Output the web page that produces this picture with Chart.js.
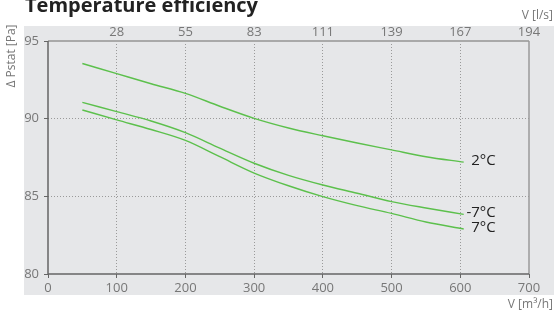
<!DOCTYPE html>
<html>
<head>
<meta charset="utf-8">
<script src="https://cdn.jsdelivr.net/npm/chart.js@4.4.0/dist/chart.umd.min.js"></script>
<style>
  html, body { margin: 0; padding: 0; background: #fff; }
</style>
</head>
<body>
<canvas id="chart" width="554" height="311"></canvas>
<script>
// airflow in m3/h
const airflow = [50, 100, 150, 200, 250, 300, 350, 400, 450, 500, 550, 605];
// static pressure drop [Pa] per outdoor temperature
const pressure2 = [93.55, 92.9, 92.25, 91.63, 90.8, 90.02, 89.4, 88.9, 88.43, 87.99, 87.55, 87.2];
const pressureMinus7 = [91.05, 90.45, 89.85, 89.1, 88.1, 87.13, 86.35, 85.73, 85.2, 84.66, 84.25, 83.84];
const pressure7 = [90.56, 89.92, 89.3, 88.6, 87.55, 86.5, 85.68, 84.98, 84.4, 83.9, 83.35, 82.9];
const seriesLabels = ['2°C', '-7°C', '7°C'];
// top axis: same positions expressed in l/s
const topTickLabels = ['', '28', '55', '83', '111', '139', '167', '194'];

const green = '#5cc04c';
const font = '"Open Sans", sans-serif';

function toPoints(ys) {
    return airflow.map((x, i) => ({ x: x, y: ys[i] }));
}

const decor = {
    id: 'decor',
    beforeDraw(chart) {
        const { ctx, chartArea: a } = chart;
        ctx.save();
        ctx.fillStyle = '#e6e7e9';
        ctx.fillRect(a.left - 24, a.top - 15, chart.width - (a.left - 24), a.bottom - a.top + 36);
        ctx.restore();
    },
    beforeDatasetsDraw(chart) {
        const { ctx, chartArea: a } = chart;
        ctx.save();
        // frame
        ctx.strokeStyle = '#a9a9a9';
        ctx.lineWidth = 2;
        ctx.beginPath(); ctx.moveTo(a.left, a.top); ctx.lineTo(a.right, a.top); ctx.stroke();
        ctx.strokeStyle = '#9a9a9a';
        ctx.lineWidth = 1.5;
        ctx.beginPath(); ctx.moveTo(a.right, a.top); ctx.lineTo(a.right, a.bottom); ctx.stroke();
        ctx.strokeStyle = '#666';
        ctx.beginPath(); ctx.moveTo(a.left, a.top); ctx.lineTo(a.left, a.bottom); ctx.lineTo(a.right, a.bottom); ctx.stroke();
        ctx.restore();
    },
    afterDraw(chart) {
        const { ctx } = chart;
        ctx.save();
        // title (top clipped as in the original)
        ctx.fillStyle = '#222';
        ctx.font = 'bold 20px ' + font;
        ctx.textAlign = 'left';
        ctx.textBaseline = 'alphabetic';
        ctx.fillText('Temperature efficiency', 25, 12);
        // axis titles
        ctx.fillStyle = '#777';
        ctx.font = '12px ' + font;
        ctx.textAlign = 'right';
        ctx.textBaseline = 'middle';
        ctx.fillText('V [l/s]', 553, 16);
        ctx.fillText('V [m³/h]', 553, 305);
        ctx.translate(12, 56);
        ctx.rotate(-Math.PI / 2);
        ctx.textAlign = 'center';
        ctx.fillText('Δ Pstat [Pa]', 0, 0);
        ctx.restore();
        // series end labels
        ctx.save();
        ctx.fillStyle = '#222';
        ctx.font = '15px ' + font;
        ctx.textAlign = 'right';
        ctx.textBaseline = 'middle';
        chart.data.datasets.forEach((ds, i) => {
            const meta = chart.getDatasetMeta(i);
            const last = meta.data[meta.data.length - 1];
            ctx.fillText(seriesLabels[i], last.x + 32, last.y - 1.5);
        });
        ctx.restore();
    }
};

function gridColor(ctx) {
    const v = ctx.tick.value;
    return (v === 0 || v === 700 || v === 80 || v === 95) ? 'rgba(0,0,0,0)' : '#9a9a9a';
}

new Chart(document.getElementById('chart'), {
    type: 'line',
    data: {
        datasets: [
            { label: seriesLabels[0], data: toPoints(pressure2) },
            { label: seriesLabels[1], data: toPoints(pressureMinus7) },
            { label: seriesLabels[2], data: toPoints(pressure7) }
        ].map(d => Object.assign(d, {
            borderColor: green, borderWidth: 1.4, pointRadius: 0,
            tension: 0.4, cubicInterpolationMode: 'monotone', fill: false
        }))
    },
    options: {
        responsive: false,
        animation: false,
        layout: { padding: { left: 0, right: 25, top: 0, bottom: 0 } },
        plugins: { legend: { display: false }, tooltip: { enabled: false } },
        scales: {
            x: {
                type: 'linear', position: 'bottom', min: 0, max: 700,
                ticks: { stepSize: 100, color: '#777', font: { family: font, size: 13 }, padding: 2, maxRotation: 0 },
                grid: { color: gridColor, lineWidth: 1, tickColor: '#666', tickLength: 4, tickWidth: 1 },
                border: { display: false, dash: [1, 2] },
                afterFit(s) { s.height = 37; }
            },
            x2: {
                type: 'linear', position: 'top', min: 0, max: 700,
                ticks: { stepSize: 100, color: '#777', font: { family: font, size: 13 }, padding: 1, maxRotation: 0,
                    callback: v => topTickLabels[Math.round(v / 100)] },
                grid: { display: false, drawTicks: false },
                border: { display: false },
                afterFit(s) { s.height = 41; }
            },
            y: {
                type: 'linear', position: 'left', min: 80, max: 95,
                ticks: { stepSize: 5, color: '#777', font: { family: font, size: 13 }, padding: 5 },
                grid: { color: gridColor, lineWidth: 1, tickColor: '#666', tickLength: 4, tickWidth: 1 },
                border: { display: false, dash: [1, 2] },
                afterFit(s) { s.width = 48; }
            }
        }
    },
    plugins: [decor]
});
</script>
</body>
</html>
